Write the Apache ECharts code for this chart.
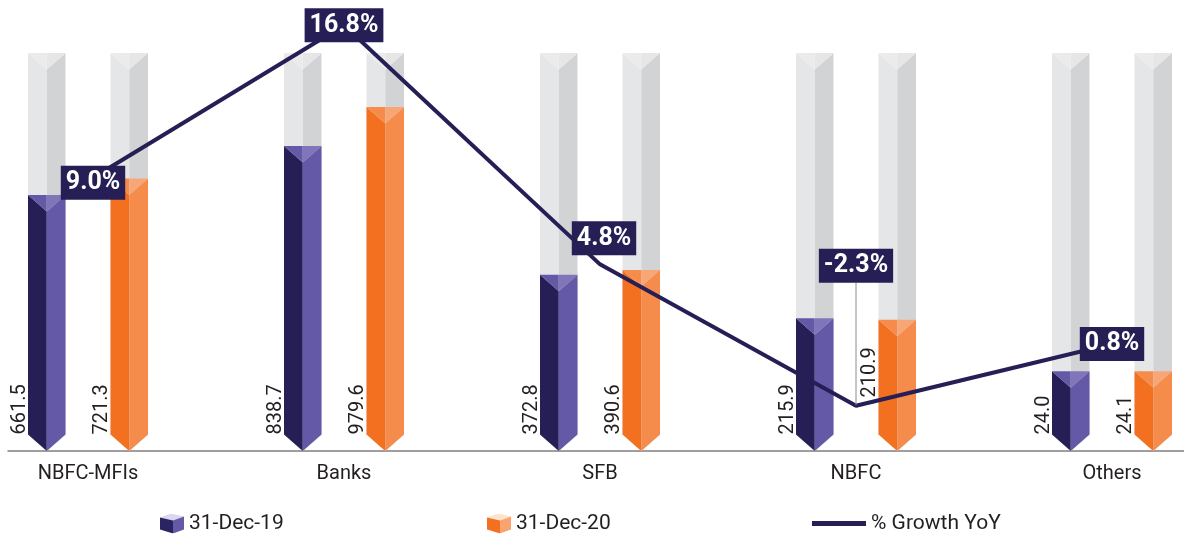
<!DOCTYPE html>
<html>
<head>
<meta charset="utf-8">
<title>Portfolio by lender type</title>
<script src="https://cdn.jsdelivr.net/npm/echarts@6/dist/echarts.min.js"></script>
<style>
  html, body { margin: 0; padding: 0; background: #ffffff; }
  #chart { width: 1184px; height: 535px; }
</style>
</head>
<body>
<div id="chart"></div>
<script>
// Portfolio outstanding by lender type (two snapshots) and YoY growth
const CATEGORIES = ['NBFC-MFIs', 'Banks', 'SFB', 'NBFC', 'Others'];
const DEC19 = [661.5, 838.7, 372.8, 215.9, 24.0];
const DEC20 = [721.3, 979.6, 390.6, 210.9, 24.1];
const GROWTH = [9.0, 16.8, 4.8, -2.3, 0.8];
const SERIES_NAMES = ['31-Dec-19', '31-Dec-20', '% Growth YoY'];

// hidden axis ranges
const BAR_AXIS = { min: -264, max: 1175 };
const PCT_AXIS = { min: -4.57, max: 15.41 };

// prism geometry
const BAR_W = 37.5;
const BAR_SHIFT = 41.25;
const TIP = 16.5;

const FONT = 'Roboto, "Noto Sans", sans-serif';
const TEXT_COLOR = '#231f20';
const NAVY = '#251f55';

const PALETTES = {
  gray:   { left: '#e5e6e8', right: '#d2d3d5', capL: '#ebebec', capR: '#e6e6e7' },
  purple: { left: '#251f55', right: '#6459a6', capL: '#6459a6', capR: '#8074bb' },
  orange: { left: '#f37021', right: '#f68c4b', capL: '#f68c4b', capR: '#f9a677' }
};

// value-label lifts where the growth line would cross the text
const LABEL_RAISE = { '31-Dec-20': { NBFC: 37 } };
// growth-label shifts
const GROWTH_LABEL_SHIFT = { 'NBFC-MFIs': [5, 2], SFB: [4, -26], NBFC: [0, -140] };

function prism(cx, top, base, pal) {
  const l = cx - BAR_W / 2, r = cx + BAR_W / 2;
  return [
    { type: 'polygon', shape: { points: [[l, top], [cx, top + TIP], [cx, base], [l, base - TIP]] }, style: { fill: pal.left } },
    { type: 'polygon', shape: { points: [[r, top], [cx, top + TIP], [cx, base], [r, base - TIP]] }, style: { fill: pal.right } },
    { type: 'polygon', shape: { points: [[l, top], [cx, top], [cx, top + TIP]] }, style: { fill: pal.capL } },
    { type: 'polygon', shape: { points: [[cx, top], [r, top], [cx, top + TIP]] }, style: { fill: pal.capR } }
  ];
}

function makeRender(shift, pal, seriesName) {
  return function (params, api) {
    const idx = api.value(0);
    const val = api.value(1);
    const cx = api.coord([idx, 0])[0] + shift;
    const top = api.coord([idx, val])[1];
    const base = api.coord([idx, BAR_AXIS.min])[1];
    const ceil = api.coord([idx, BAR_AXIS.max])[1];
    const raise = (LABEL_RAISE[seriesName] || {})[CATEGORIES[idx]] || 0;
    const children = prism(cx, ceil, base, PALETTES.gray).concat(prism(cx, top, base, pal));
    children.push({
      type: 'text',
      x: cx - BAR_W / 2 + 1.5,
      y: base - TIP - raise,
      rotation: Math.PI / 2,
      style: {
        text: val.toFixed(1),
        fill: TEXT_COLOR,
        fontSize: 20,
        fontFamily: FONT,
        align: 'left',
        verticalAlign: 'bottom'
      }
    });
    return { type: 'group', children: children };
  };
}

function cubeIcon(top, left, right) {
  const svg = '<svg xmlns="http://www.w3.org/2000/svg" width="24" height="20" viewBox="0 0 24 20">' +
    '<polygon points="0,4 11,0 24,3 13,7" fill="' + top + '"/>' +
    '<polygon points="0,4 13,7 13,20 0,16" fill="' + left + '"/>' +
    '<polygon points="13,7 24,3 24,16 13,20" fill="' + right + '"/>' +
    '</svg>';
  return 'image://data:image/svg+xml;charset=utf-8,' + encodeURIComponent(svg);
}

const legendText = { fontSize: 21, color: TEXT_COLOR, fontFamily: FONT };

const chart = echarts.init(document.getElementById('chart'), null, { renderer: 'canvas' });

chart.setOption({
  animation: false,
  backgroundColor: '#ffffff',
  grid: [
    { left: 88, right: 72, top: 53, bottom: 84 },
    { left: 8, right: 0, top: 53, bottom: 84 }
  ],
  legend: [
    {
      data: [{ name: SERIES_NAMES[0], icon: cubeIcon('#dcd7ee', '#2b2462', '#6459a6') }],
      left: 160, top: 513, padding: 0, itemWidth: 24, itemHeight: 20,
      textStyle: legendText, selectedMode: false
    },
    {
      data: [{ name: SERIES_NAMES[1], icon: cubeIcon('#fde3cc', '#f37021', '#f9a46f') }],
      left: 487, top: 513, padding: 0, itemWidth: 24, itemHeight: 20,
      textStyle: legendText, selectedMode: false
    },
    {
      data: [{ name: SERIES_NAMES[2], icon: 'rect' }],
      left: 812, top: 513, padding: 0, itemWidth: 54, itemHeight: 5,
      textStyle: legendText, selectedMode: false
    }
  ],
  xAxis: [
    {
      type: 'category',
      gridIndex: 0,
      data: CATEGORIES,
      boundaryGap: false,
      axisLine: { show: false },
      axisTick: { show: false },
      axisLabel: { margin: 13, fontSize: 20, color: TEXT_COLOR, fontFamily: FONT, interval: 0 }
    },
    {
      type: 'value',
      gridIndex: 1,
      min: 0,
      max: 1,
      axisLine: { show: true, onZero: false, lineStyle: { color: '#7f7f7f', width: 1.5 } },
      axisTick: { show: false },
      axisLabel: { show: false },
      splitLine: { show: false }
    }
  ],
  yAxis: [
    { type: 'value', gridIndex: 0, min: BAR_AXIS.min, max: BAR_AXIS.max, show: false, splitLine: { show: false } },
    { type: 'value', gridIndex: 0, min: PCT_AXIS.min, max: PCT_AXIS.max, show: false, splitLine: { show: false } },
    { type: 'value', gridIndex: 1, show: false, splitLine: { show: false } }
  ],
  series: [
    {
      name: SERIES_NAMES[0],
      type: 'custom',
      xAxisIndex: 0,
      yAxisIndex: 0,
      encode: { x: 0, y: 1 },
      data: DEC19.map((v, i) => [i, v]),
      itemStyle: { color: '#6459a6' },
      renderItem: makeRender(-BAR_SHIFT, PALETTES.purple, SERIES_NAMES[0]),
      silent: true,
      z: 2
    },
    {
      name: SERIES_NAMES[1],
      type: 'custom',
      xAxisIndex: 0,
      yAxisIndex: 0,
      encode: { x: 0, y: 1 },
      data: DEC20.map((v, i) => [i, v]),
      itemStyle: { color: '#f37021' },
      renderItem: makeRender(BAR_SHIFT, PALETTES.orange, SERIES_NAMES[1]),
      silent: true,
      z: 2
    },
    {
      name: SERIES_NAMES[2],
      type: 'line',
      xAxisIndex: 0,
      yAxisIndex: 1,
      clip: false,
      z: 5,
      silent: true,
      symbol: 'circle',
      symbolSize: 1,
      showSymbol: true,
      lineStyle: { color: NAVY, width: 4 },
      itemStyle: { color: NAVY },
      data: GROWTH.map((v, i) => ({
        value: v,
        labelLine: { show: CATEGORIES[i] === 'NBFC' }
      })),
      label: {
        show: true,
        position: 'inside',
        formatter: p => p.value.toFixed(1) + '%',
        color: '#ffffff',
        fontSize: 25,
        fontWeight: 'bold',
        fontFamily: FONT,
        backgroundColor: NAVY,
        padding: [5, 5, 4, 5]
      },
      labelLine: { show: false, lineStyle: { color: '#8c8c8c', width: 1 } },
      labelLayout: p => {
        const s = GROWTH_LABEL_SHIFT[CATEGORIES[p.dataIndex]] || [0, 0];
        return { dx: s[0], dy: s[1] };
      }
    }
  ]
});
</script>
</body>
</html>
